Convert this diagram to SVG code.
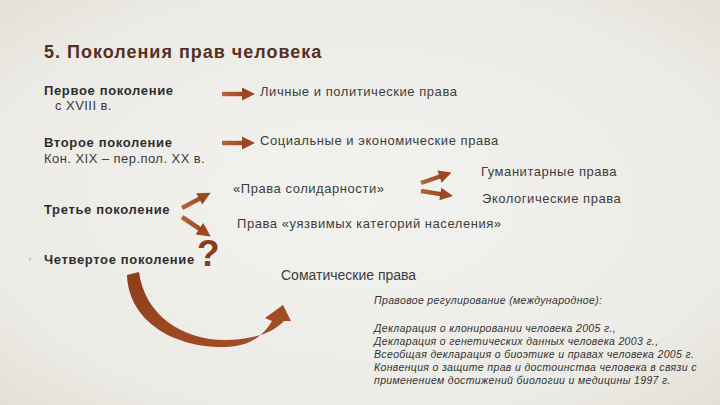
<svg xmlns="http://www.w3.org/2000/svg" xmlns:xlink="http://www.w3.org/1999/xlink" width="720" height="405" viewBox="0 0 720 405">
<defs>
<radialGradient id="bg" cx="50%" cy="50%" r="75%">
<stop offset="0" stop-color="#f2f2ef"/>
<stop offset="0.7" stop-color="#ecebe6"/>
<stop offset="1" stop-color="#e2ddd2"/>
</radialGradient>
<linearGradient id="ag" x1="0" y1="0" x2="1" y2="0">
<stop offset="0" stop-color="#b7653a"/>
<stop offset="1" stop-color="#9c4722"/>
</linearGradient>
<linearGradient id="cg" x1="0" y1="0" x2="1" y2="1">
<stop offset="0" stop-color="#8e3e1c"/>
<stop offset="1" stop-color="#a85026"/>
</linearGradient>
<g id="arr">
<rect x="0" y="-2.2" width="22" height="4.4" fill="url(#ag)"/>
<polygon points="20,-6.5 33,0 20,6.5" fill="#9c4722"/>
</g>
</defs>
<style>
.t{font-family:"Liberation Sans",Arial,sans-serif}
.title{font-size:18px;font-weight:bold;fill:#56301f;letter-spacing:1px}
.gen{font-size:13px;font-weight:bold;fill:#2e2e2e;letter-spacing:0.65px}
.sub{font-size:13px;fill:#3a3a3a;letter-spacing:0.45px}
.r{font-size:13px;fill:#3d3d3d;letter-spacing:0.55px}
.it{font-size:10.5px;font-style:italic;fill:#333;letter-spacing:0.35px}
</style>
<rect width="720" height="405" fill="url(#bg)"/>
<text class="t title" x="44" y="58">5. Поколения прав человека</text>

<g id="gen1">
<text class="t gen" x="44" y="95">Первое поколение</text>
<text class="t sub" x="55" y="110">с XVIII в.</text>
</g>
<g id="gen2">
<text class="t gen" x="44" y="147">Второе поколение</text>
<text class="t sub" x="44" y="163">Кон. XIX – пер.пол. XX в.</text>
</g>
<g id="gen3">
<text class="t gen" x="44" y="214">Третье поколение</text>
</g>
<g id="gen4">
<circle cx="30" cy="259" r="1.5" fill="#c9c9c4"/>
<text class="t gen" x="44" y="264">Четвертое поколение</text>
<text class="t" x="197" y="266" font-size="37" font-weight="bold" fill="#8a3c1c">?</text>
</g>

<g id="r1"><text class="t r" x="260" y="96">Личные и политические права</text></g>
<g id="r2"><text class="t r" x="260" y="145">Социальные и экономические права</text></g>
<g id="r3"><text class="t r" x="233" y="193">«Права солидарности»</text></g>
<g id="r4"><text class="t r" x="237" y="228">Права «уязвимых категорий населения»</text></g>
<g id="r5"><text class="t r" x="481" y="176">Гуманитарные права</text></g>
<g id="r6"><text class="t r" x="482" y="203">Экологические права</text></g>
<g id="r7"><text class="t" x="281" y="280" font-size="14" fill="#3d3d3d">Соматические права</text></g>

<g id="law">
<text class="t it" x="374" y="304">Правовое регулирование (международное):</text>
<text class="t it" x="374" y="332">Декларация о клонировании человека 2005 г.,</text>
<text class="t it" x="374" y="345">Декларация о генетических данных человека 2003 г.,</text>
<text class="t it" x="374" y="358">Всеобщая декларация о биоэтике и правах человека 2005 г.</text>
<text class="t it" x="374" y="371">Конвенция о защите прав и достоинства человека в связи с</text>
<text class="t it" x="374" y="384">применением достижений биологии и медицины 1997 г.</text>
</g>

<g id="connectors">
<use xlink:href="#arr" transform="translate(222,94)"/>
<use xlink:href="#arr" transform="translate(222,143)"/>
<use xlink:href="#arr" transform="translate(182,208) rotate(-28) scale(0.98)"/>
<use xlink:href="#arr" transform="translate(182,217) rotate(34) scale(1.05)"/>
<use xlink:href="#arr" transform="translate(421,183) rotate(-19) scale(0.98)"/>
<use xlink:href="#arr" transform="translate(421,191) rotate(9) scale(0.98)"/>
<path d="M127,275 C128,318 170,348 225,347 C248,346 262,338 272,321 L265,318 L283,305 L291,321 L284,321 C272,334 250,340 225,340 C183,340 145,316 139,272 Z" fill="url(#cg)"/>
</g>
</svg>
